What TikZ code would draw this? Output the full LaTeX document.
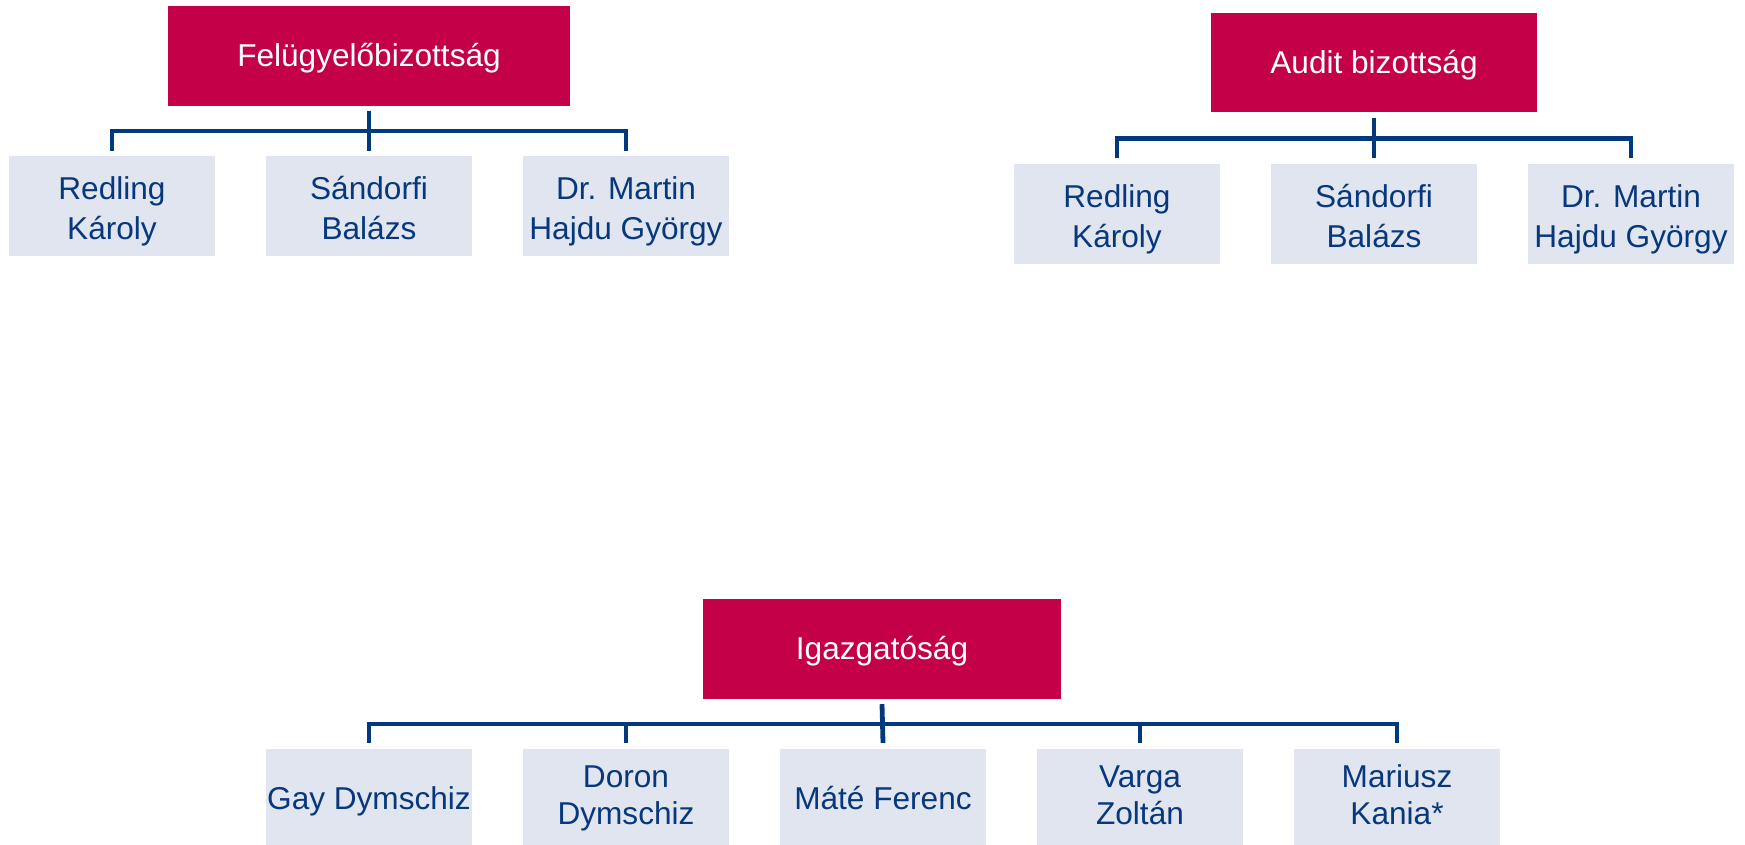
\documentclass[tikz,border=0pt]{standalone}
\usepackage{fontspec}
\setmainfont{Liberation Sans}
\definecolor{headred}{RGB}{195,0,72}
\definecolor{lineblue}{RGB}{0,58,125}
\definecolor{boxgrey}{RGB}{224,229,239}
\definecolor{textblue}{RGB}{8,56,124}
\begin{document}
\begin{tikzpicture}[x=1pt,y=-1pt,
  head/.style={rectangle, fill=headred, text=white, inner sep=0pt, minimum height=100pt,
    text height=21.5pt, text depth=0pt, font=\fontsize{31.6}{35.6}\selectfont},
  member/.style={rectangle, fill=boxgrey, text=textblue, inner sep=0pt, align=center,
    minimum width=206pt, minimum height=100pt, font=\fontsize{31.6}{40}\selectfont,
    text height=70pt, text depth=3.4pt},
  lowmember/.style={rectangle, fill=boxgrey, text=textblue, inner sep=0pt, align=center,
    minimum width=206pt, minimum height=96pt, font=\fontsize{31.6}{36.5}\selectfont,
    text height=58pt, text depth=4pt},
  onemember/.style={rectangle, fill=boxgrey, text=textblue, inner sep=0pt,
    minimum width=206pt, minimum height=96pt, font=\fontsize{31.6}{36.5}\selectfont,
    text height=25pt, text depth=0pt},
  conn/.style={draw=lineblue, line width=4.8pt}]
\fill[white] (0,0) rectangle (1745,845);
\useasboundingbox (0,0) rectangle (1745,845);
% Group 1
\node[head, minimum width=402pt] (p1) at (369,56) {Felügyelőbizottság};
\node[member] (a1) at (112,206) {Redling\\Károly};
\node[member] (a2) at (369,206) {Sándorfi\\Balázs};
\node[member] (a3) at (626,206) {Dr. Martin\\Hajdu György};
\coordinate (b1) at (0,131);
\draw[conn] ([yshift=5pt]a1.north) -- (a1.north |- b1) -- (a3.north |- b1) -- ([yshift=5pt]a3.north);
\draw[conn] ([yshift=-5pt]p1.south) -- ([yshift=5pt]a2.north);
% Group 2
\node[head, minimum width=326pt, minimum height=99pt] (p2) at (1374,62.5) {Audit bizottság};
\node[member] (c1) at (1117,214) {Redling\\Károly};
\node[member] (c2) at (1374,214) {Sándorfi\\Balázs};
\node[member] (c3) at (1631,214) {Dr. Martin\\Hajdu György};
\coordinate (b2) at (0,138.5);
\draw[conn] ([yshift=5.5pt]c1.north) -- (c1.north |- b2) -- (c3.north |- b2) -- ([yshift=5.5pt]c3.north);
\draw[conn] ([yshift=-5.5pt]p2.south) -- ([yshift=5.5pt]c2.north);
% Group 3
\node[head, minimum width=358pt] (p3) at (882,649) {Igazgatóság};
\node[onemember] (d1) at (369,797) {Gay Dymschiz};
\node[lowmember] (d2) at (626,797) {Doron\\Dymschiz};
\node[onemember] (d3) at (883,797) {Máté Ferenc};
\node[lowmember] (d4) at (1140,797) {Varga\\Zoltán};
\node[lowmember] (d5) at (1397,797) {Mariusz\\Kania*};
\coordinate (b3) at (0,724);
\draw[conn] ([yshift=6pt]d1.north) -- (d1.north |- b3) -- (d5.north |- b3) -- ([yshift=6pt]d5.north);
\draw[conn] (d2.north |- b3) -- ([yshift=6pt]d2.north);
\draw[conn] (d4.north |- b3) -- ([yshift=6pt]d4.north);
\draw[conn] ([yshift=-5pt]p3.south) -- ([yshift=6pt]d3.north);
\end{tikzpicture}
\end{document}
